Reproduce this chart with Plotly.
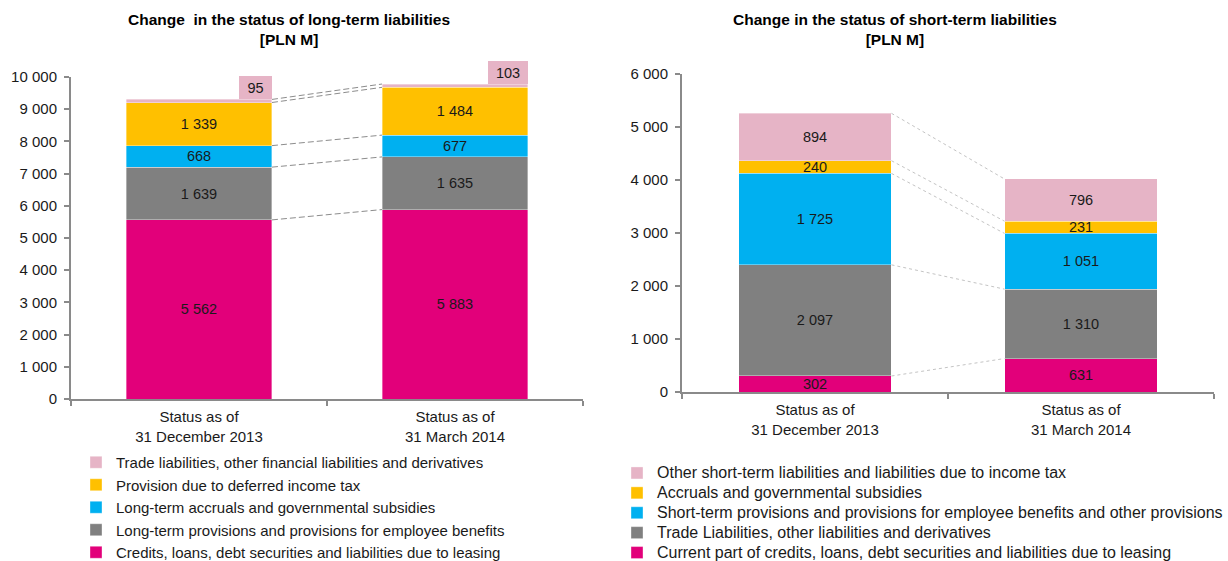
import plotly.graph_objects as go

# ---------------- data ----------------
categories = ["Status as of<br>31 December 2013", "Status as of<br>31 March 2014"]

lt_names = [
    "Credits, loans, debt securities and liabilities due to leasing",
    "Long-term provisions and provisions for employee benefits",
    "Long-term accruals and governmental subsidies",
    "Provision due to deferred income tax",
    "Trade liabilities, other financial liabilities and derivatives",
]
lt_credits = [5562, 5883]
lt_provisions = [1639, 1635]
lt_accruals = [668, 677]
lt_deferred_tax = [1339, 1484]
lt_trade = [95, 103]

st_names = [
    "Current part of credits, loans, debt securities and liabilities due to leasing",
    "Trade Liabilities, other liabilities and derivatives",
    "Short-term provisions and provisions for employee benefits and other provisions",
    "Accruals and governmental subsidies",
    "Other short-term liabilities and liabilities due to income tax",
]
st_current_credits = [302, 631]
st_trade = [2097, 1310]
st_provisions = [1725, 1051]
st_accruals = [240, 231]
st_other = [894, 796]

colors = ["#E2007A", "#808080", "#00B0F0", "#FFC000", "#E6B4C6"]

# ---------------- styles ----------------
FONT = "Liberation Sans, Arial, sans-serif"
TXT = "#1a1a1a"
W_LT = 0.57
W_ST = 0.575
FW, FH = 1228, 561


def px_x(p):
    return p / FW


def px_y(p):
    return 1 - p / FH


def fmt(v):
    return f"{v:,}".replace(",", " ")


fig = go.Figure()

lt_series = [lt_credits, lt_provisions, lt_accruals, lt_deferred_tax, lt_trade]
st_series = [st_current_credits, st_trade, st_provisions, st_accruals, st_other]
xs = [0, 1]

for i, (name, vals) in enumerate(zip(lt_names, lt_series)):
    txt = [fmt(v) for v in vals] if i < 4 else ["", ""]
    fig.add_trace(go.Bar(
        x=xs, y=vals, name=name, width=W_LT,
        marker=dict(color=colors[i], line=dict(color="rgba(255,255,255,0.6)", width=0.6)),
        text=txt, textposition="inside", insidetextanchor="middle",
        constraintext="none", textangle=0,
        textfont=dict(family=FONT, size=14.5, color=TXT),
        xaxis="x", yaxis="y", legend="legend",
        hoverinfo="skip",
    ))

for i, (name, vals) in enumerate(zip(st_names, st_series)):
    fig.add_trace(go.Bar(
        x=xs, y=vals, name='<span style="font-size:16px">%s</span>' % name, width=W_ST,
        marker=dict(color=colors[i], line=dict(color="rgba(255,255,255,0.6)", width=0.6)),
        text=[fmt(v) for v in vals], textposition="inside", insidetextanchor="middle",
        constraintext="none", textangle=0,
        textfont=dict(family=FONT, size=14.5, color=TXT),
        xaxis="x2", yaxis="y2", legend="legend2",
        hoverinfo="skip",
    ))


# connector lines between segment tops
def cum(series):
    out = []
    run = [0, 0]
    for s in series:
        run = [run[0] + s[0], run[1] + s[1]]
        out.append(list(run))
    return out


for top in cum(lt_series):
    fig.add_trace(go.Scatter(
        x=[W_LT / 2, 1 - W_LT / 2], y=top, mode="lines",
        line=dict(color="#8C8C8C", width=1, dash="6px,3px"),
        xaxis="x", yaxis="y", showlegend=False, hoverinfo="skip",
    ))
for top in cum(st_series):
    fig.add_trace(go.Scatter(
        x=[W_ST / 2, 1 - W_ST / 2], y=top, mode="lines",
        line=dict(color="#C4C4C4", width=1, dash="dot"),
        xaxis="x2", yaxis="y2", showlegend=False, hoverinfo="skip",
    ))

# labels for the thin top segment (left chart)
lt_tot = cum(lt_series)[-1]
for j in range(2):
    fig.add_annotation(
        x=j + W_LT / 2, y=lt_tot[j], xref="x", yref="y",
        text=fmt(lt_trade[j]), showarrow=False,
        xanchor="right", yanchor="bottom",
        bgcolor=colors[4], width=33 if j == 0 else 40, height=23,
        borderpad=0, borderwidth=0,
        font=dict(family=FONT, size=14.5, color=TXT),
    )

axis_col = "#8A8A8A"
xcommon = dict(
    range=[-0.5, 1.5], tickvals=xs, ticktext=categories, ticks="",
    showline=True, linecolor=axis_col, linewidth=2,
    showgrid=False, zeroline=False, ticklabelstandoff=3,
    tickfont=dict(family=FONT, size=15, color=TXT),
    minor=dict(tickvals=[-0.5, 0.5, 1.5], ticks="outside", ticklen=5,
               tickcolor=axis_col, tickwidth=1.5),
)
ycommon = dict(
    showline=True, linecolor=axis_col, linewidth=2,
    ticks="outside", ticklen=5, tickcolor=axis_col, tickwidth=1.5,
    showgrid=False, zeroline=False, tickformat=",d", ticklabelstandoff=4,
    tickfont=dict(family=FONT, size=15, color=TXT),
)

fig.update_layout(
    width=FW, height=FH,
    margin=dict(l=0, r=0, t=0, b=0, autoexpand=False),
    paper_bgcolor="white", plot_bgcolor="white",
    separators=", ",
    barmode="stack",
    font=dict(family=FONT, size=15, color=TXT),
    xaxis=dict(domain=[px_x(71), px_x(583)], anchor="y", **xcommon),
    yaxis=dict(domain=[px_y(399), px_y(77)], anchor="x", range=[0, 10000], dtick=1000, **ycommon),
    xaxis2=dict(domain=[px_x(682), px_x(1214)], anchor="y2", **xcommon),
    yaxis2=dict(domain=[px_y(392), px_y(74)], anchor="x2", range=[0, 6000], dtick=1000, **ycommon),
    legend=dict(x=px_x(76), y=px_y(446), xanchor="left", yanchor="top",
                traceorder="reversed", itemwidth=30,
                font=dict(family=FONT, size=15, color=TXT), bgcolor="rgba(0,0,0,0)"),
    legend2=dict(x=px_x(617), y=px_y(458), xanchor="left", yanchor="top",
                 traceorder="reversed", itemwidth=30,
                 font=dict(family=FONT, size=13, color=TXT), bgcolor="rgba(0,0,0,0)"),
    showlegend=True,
)

fig.add_annotation(x=px_x(289), y=px_y(9), xref="paper", yref="paper",
                   text="<b>Change  in the status of long-term liabilities<br>[PLN M]</b>",
                   showarrow=False, xanchor="center", yanchor="top",
                   font=dict(family=FONT, size=15.5, color="#000000"))
fig.add_annotation(x=px_x(895), y=px_y(9), xref="paper", yref="paper",
                   text="<b>Change in the status of short-term liabilities<br>[PLN M]</b>",
                   showarrow=False, xanchor="center", yanchor="top",
                   font=dict(family=FONT, size=15.5, color="#000000"))

fig.write_html("out.html", config={"displayModeBar": False},
               post_script="document.body.style.margin='0';")
